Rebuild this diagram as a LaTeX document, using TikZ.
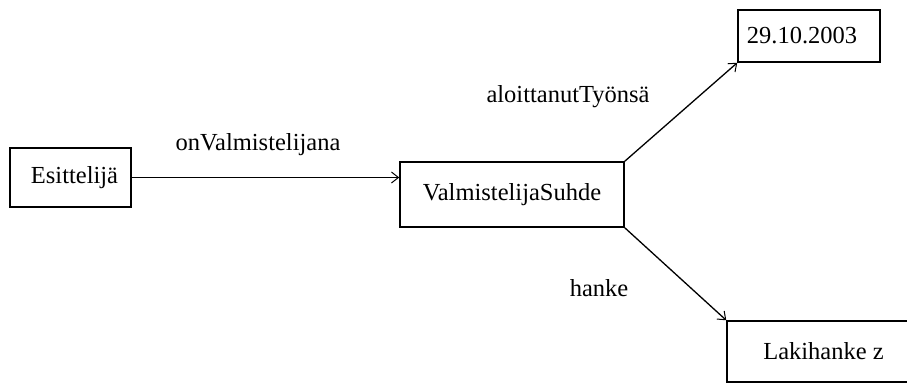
\documentclass[tikz,border=0pt]{standalone}
\usepackage{fontspec}
\setmainfont{Liberation Serif}
\usetikzlibrary{arrows.meta}
\begin{document}
\begin{tikzpicture}[x=1pt,y=-1pt,
  box/.style={draw=black, line width=1.5pt, minimum width=#1, inner sep=0pt, font=\fontsize{24.5}{29}\selectfont},
  lbl/.style={font=\fontsize{24.5}{29}\selectfont, inner sep=0pt},
  conn/.style={draw=black, line width=1.3pt, -{Straight Barb[length=7pt,width=11pt,line width=1pt]}}]
\useasboundingbox (0,0) rectangle (907,384);
\fill[white] (0,0) rectangle (907,384);
\begin{scope}
\clip (0,0) rectangle (907,384);
\node[box=121pt, minimum height=59pt] (E) at (70.5,177.5) {\hspace*{8pt}Esittelijä};
\node[box=224pt, minimum height=65pt] (V) at (512,194.5) {ValmistelijaSuhde};
\node[box=142pt, minimum height=52pt] (D) at (809,36) {29.10.2003\hspace*{14pt}};
\node[box=193pt, minimum height=61pt] (L) at (823.5,351.5) {Lakihanke z};
\node[lbl] (l1) at (258,145) {onValmistelijana};
\node[lbl] (l2) at (568,97) {aloittanutTyönsä};
\node[lbl] (l3) at (599,288) {hanke};
\draw[conn] (E.east) -- (E.east -| V.west);
\draw[conn] (V.north east) -- (D.south west);
\draw[conn] (V.south east) -- (L.north west);
\end{scope}
\end{tikzpicture}
\end{document}
